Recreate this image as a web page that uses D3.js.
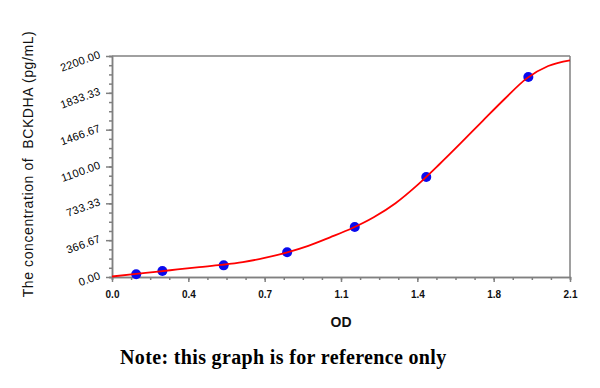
<!DOCTYPE html>
<html>
<head>
<meta charset="utf-8">
<script src="https://cdn.jsdelivr.net/npm/d3@7"></script>
<style>
  body { margin: 0; background: #fff; }
  svg { display: block; }
</style>
</head>
<body>
<script>
/*
DATA
*/
const standardOD = [0.111, 0.231, 0.512, 0.803, 1.113, 1.441, 1.909]
const standardConc = [27, 60, 116, 246, 498, 996, 1991]

// fitted curve
const curveOD = [0, 0.1, 0.2, 0.3, 0.4, 0.5, 0.6, 0.7, 0.8, 0.9, 1.0, 1.1,
  1.2, 1.3, 1.4, 1.5, 1.6, 1.7, 1.8, 1.9, 2.0, 2.1]
const curveConc = [5, 28, 52, 75, 98, 120, 148, 190, 243, 310, 395, 485,
  595, 735, 915, 1120, 1335, 1555, 1772, 1975, 2100, 2157]

const xTickValues = [0, 0.35, 0.7, 1.05, 1.4, 1.75, 2.1]
const xTickLabels = ["0.0", "0.4", "0.7", "1.1", "1.4", "1.8", "2.1"]
const yTickValues = [0, 366.67, 733.33, 1100, 1466.67, 1833.33, 2200]
const yTickLabels = ["0.00", "366.67", "733.33", "1100.00", "1466.67", "1833.33", "2200.00"]

/*
SET UP
*/
const w = 600
const h = 388
const m = ({top: 56, right: 30, bottom: 111, left: 112})

const svg = d3.select("body")
  .append("svg")
  .attr("width", w)
  .attr("height", h);

const x = d3.scaleLinear()
  .domain([0, 2.1])
  .range([m.left, w - m.right]);

const y = d3.scaleLinear()
  .domain([0, 2200])
  .range([h - m.bottom, m.top]);

const grey = "#808080"

// frame top & right
svg.append("line")
  .attr("x1", m.left).attr("x2", w - m.right)
  .attr("y1", m.top).attr("y2", m.top)
  .attr("stroke", grey).attr("stroke-width", 1.5);
svg.append("line")
  .attr("x1", w - m.right).attr("x2", w - m.right)
  .attr("y1", m.top).attr("y2", h - m.bottom)
  .attr("stroke", grey).attr("stroke-width", 1.5);

/*
AXES
*/
// minor ticks
const xMinor = d3.range(0, 25).map((i) => i * 0.0875)
const yMinor = d3.range(0, 25).map((i) => i * 2200 / 24)

svg.append("g")
  .attr("transform", `translate(0,${h - m.bottom})`)
  .call(d3.axisBottom(x).tickValues(xMinor).tickSize(3).tickFormat(""));

const xAxis = svg.append("g")
  .attr("transform", `translate(0,${h - m.bottom})`)
  .call(d3.axisBottom(x).tickValues(xTickValues).tickSize(5).tickSizeOuter(0)
    .tickPadding(9)
    .tickFormat((d, i) => xTickLabels[i]));

svg.append("g")
  .attr("transform", `translate(${m.left},0)`)
  .call(d3.axisLeft(y).tickValues(yMinor).tickSize(3).tickFormat(""));

const yAxis = svg.append("g")
  .attr("transform", `translate(${m.left},0)`)
  .call(d3.axisLeft(y).tickValues(yTickValues).tickSize(6).tickSizeOuter(0)
    .tickFormat((d, i) => yTickLabels[i]));

svg.selectAll(".domain, .tick line")
  .attr("stroke", grey)
  .attr("stroke-width", 1.5);

xAxis.selectAll("text")
  .attr("font-family", "Liberation Sans, Arial, sans-serif")
  .attr("font-size", 10)
  .attr("font-weight", "bold")
  .attr("fill", "#111");

// slanted y labels, rotated about their anchor
yAxis.selectAll(".tick text")
  .attr("font-family", "Liberation Sans, Arial, sans-serif")
  .attr("font-size", 11)
  .attr("letter-spacing", 0.3)
  .attr("fill", "#000")
  .attr("x", -11)
  .attr("dy", "0.1em")
  .attr("transform", "rotate(-20,-11,0)");

/*
CURVE & POINTS
*/
const curveData = curveOD.map((d, i) => [d, curveConc[i]])

const line = d3.line()
  .x((d) => x(d[0]))
  .y((d) => y(d[1]))
  .curve(d3.curveMonotoneX)

svg.selectAll(".point")
  .data(standardOD)
  .join("circle")
  .attr("class", "point")
  .attr("cx", (d) => x(d))
  .attr("cy", (d, i) => y(standardConc[i]))
  .attr("r", 5)
  .attr("fill", "#0a0aee");

svg.append("path")
  .datum(curveData)
  .attr("d", line)
  .attr("fill", "none")
  .attr("stroke", "#ff0000")
  .attr("stroke-width", 1.8);

/*
TITLES
*/
svg.append("text")
  .attr("x", (m.left + w - m.right) / 2)
  .attr("y", 327)
  .attr("text-anchor", "middle")
  .attr("font-family", "Liberation Sans, Arial, sans-serif")
  .attr("font-size", 14)
  .attr("font-weight", "bold")
  .attr("fill", "#111")
  .text("OD");

svg.append("text")
  .attr("transform", `translate(33,164) rotate(-90)`)
  .attr("text-anchor", "middle")
  .style("white-space", "pre")
  .attr("font-family", "Liberation Sans, Arial, sans-serif")
  .attr("font-size", 14)
  .attr("letter-spacing", 0.6)
  .attr("fill", "#111")
  .text("The concentration of  BCKDHA (pg/mL)");

svg.append("text")
  .attr("x", 120)
  .attr("y", 364)
  .attr("font-family", "Liberation Serif, serif")
  .attr("font-size", 20)
  .attr("font-weight", "bold")
  .attr("letter-spacing", 0.35)
  .attr("fill", "#000")
  .text("Note: this graph is for reference only");
</script>
</body>
</html>
